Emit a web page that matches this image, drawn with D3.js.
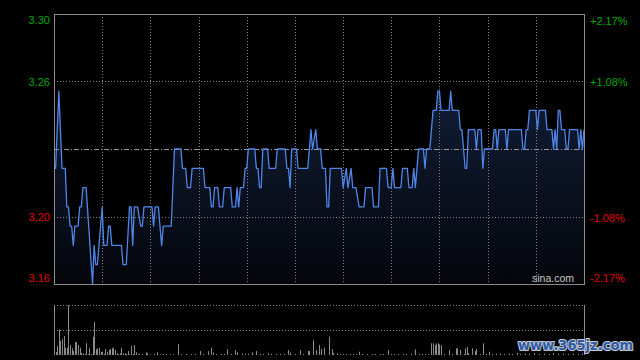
<!DOCTYPE html>
<html><head><meta charset="utf-8">
<script src="https://cdn.jsdelivr.net/npm/d3@7"></script>
<style>html,body{margin:0;padding:0;background:#000;}svg{display:block;}</style>
</head><body>
<svg id="c" width="640" height="360"></svg>
<script>
// minutes since 09:30 (HK session, 330 trading minutes) at the line's vertices
const times = [0,1,3,5,7,8,9,10,11,12,13,15,16,17,18,20,24,25,26,27,30,31,33,34,35,36,42,43,45,47,48,49,50,52,54,55,56,61,62,63,65,67,68,73,75,79,80,82,83,85,86,93,94,97,98,99,100,102,103,105,106,110,111,113,114,115,116,118,119,120,121,125,126,127,128,129,130,133,134,138,139,144,145,146,147,148,151,152,158,160,161,163,164,166,167,169,170,171,172,179,180,182,183,185,186,188,190,193,194,198,199,202,203,207,208,210,211,212,216,217,220,221,223,224,225,227,230,231,232,234,236,238,239,240,241,246,247,248,252,253,254,256,257,258,262,263,264,266,267,268,273,274,275,276,277,281,282,283,291,292,293,294,295,296,300,301,302,306,307,310,311,312,313,314,315,316,318,319,320,321,326,327,328,329,330];
const prices = [3.22,3.22,3.26,3.22,3.22,3.20,3.20,3.19,3.19,3.18,3.19,3.19,3.20,3.20,3.21,3.21,3.16,3.18,3.17,3.17,3.20,3.18,3.18,3.19,3.19,3.18,3.18,3.17,3.17,3.20,3.20,3.18,3.20,3.20,3.19,3.19,3.20,3.20,3.19,3.20,3.20,3.18,3.19,3.19,3.23,3.23,3.22,3.22,3.21,3.21,3.22,3.22,3.21,3.21,3.20,3.20,3.21,3.21,3.20,3.20,3.21,3.21,3.20,3.20,3.21,3.20,3.21,3.21,3.22,3.22,3.23,3.23,3.22,3.22,3.21,3.21,3.23,3.23,3.22,3.22,3.23,3.23,3.22,3.22,3.21,3.23,3.23,3.22,3.22,3.24,3.23,3.24,3.23,3.23,3.22,3.22,3.20,3.20,3.22,3.22,3.21,3.22,3.21,3.22,3.21,3.21,3.20,3.20,3.21,3.21,3.20,3.20,3.22,3.22,3.21,3.21,3.22,3.21,3.21,3.22,3.22,3.21,3.21,3.22,3.21,3.23,3.23,3.22,3.23,3.23,3.25,3.25,3.26,3.26,3.25,3.25,3.26,3.25,3.25,3.24,3.24,3.22,3.22,3.24,3.24,3.23,3.24,3.24,3.22,3.23,3.23,3.24,3.24,3.23,3.24,3.24,3.23,3.24,3.24,3.23,3.23,3.24,3.24,3.25,3.25,3.24,3.25,3.25,3.24,3.24,3.23,3.24,3.23,3.25,3.25,3.24,3.24,3.23,3.23,3.24,3.24,3.23,3.24,3.23,3.24];

// volume bars (minute, volume in thousand shares)
const volTimes = [0,1,2,3,4,5,6,7,8,9,10,11,12,13,14,15,16,17,18,19,20,21,22,23,24,25,26,27,28,29,30,31,32,33,34,35,36,37,38,39,40,41,42,43,44,45,46,47,48,49,50,51,52,53,55,57,58,60,62,64,66,68,70,72,74,77,79,82,85,88,91,93,96,98,99,101,104,106,108,110,113,114,117,119,121,123,126,128,130,133,135,138,141,143,146,147,150,153,155,158,159,161,163,165,166,168,171,173,174,176,178,180,182,184,186,188,190,192,195,198,200,203,205,208,210,212,214,217,219,222,225,227,229,231,233,235,236,237,238,239,240,241,243,246,248,250,251,253,255,256,257,258,260,262,263,265,267,269,271,273,275,278,280,283,285,288,290,293,296,299,302,305,308,311,314,317,320,323,326,329];
const volValues = [117,30,90,257,143,157,190,73,73,503,100,67,40,130,130,100,73,23,17,10,120,10,73,10,183,333,57,67,73,33,33,10,60,33,53,57,67,73,50,17,10,17,73,17,17,10,40,7,93,10,100,27,10,7,10,27,17,7,10,27,7,10,10,7,10,110,10,13,10,10,40,10,40,73,27,10,10,10,60,10,50,27,17,10,10,27,40,10,10,17,10,10,10,10,50,27,10,50,10,40,40,150,50,100,60,73,183,60,20,17,10,10,10,10,10,10,33,10,10,10,10,10,10,50,10,10,10,10,10,10,57,10,10,10,10,117,117,100,117,117,107,100,10,50,10,67,67,50,10,67,83,20,67,40,60,10,117,10,33,10,10,15,10,15,10,20,10,15,10,20,10,15,10,20,10,15,10,15,10,15];

const prevClose = 3.23;
const priceTicks = [3.30, 3.265, 3.195, 3.16];
const priceTickLabels = ["3.30", "3.26", "3.20", "3.16"];
const pctTickLabels = ["+2.17%", "+1.08%", "-1.08%", "-2.17%"];
const timeGrid = [30,60,90,120,150,180,210,240,270,300];

const svg = d3.select("#c");
const L = 54, R = 584, T = 14, B = 284, VT = 305, VB = 355;

const x = d3.scaleLinear().domain([0, 330]).range([L, R]);
const y = d3.scaleLinear().domain([3.16, 3.30]).range([B, T]);
const yv = d3.scaleLinear().domain([0, d3.max(volValues)]).range([VB, VT]);

const pts = times.map((t, i) => ({t, p: prices[i]}));

// gradient fill
const defs = svg.append("defs");
const g1 = defs.append("linearGradient").attr("id", "fillg")
  .attr("gradientUnits", "userSpaceOnUse").attr("x1", 0).attr("x2", 0).attr("y1", 90).attr("y2", B);
g1.append("stop").attr("offset", 0).attr("stop-color", "#111d36");
g1.append("stop").attr("offset", 1).attr("stop-color", "#04060b");

svg.append("path").datum(pts)
  .attr("d", d3.area().x(d => x(d.t)).y0(B).y1(d => y(d.p)))
  .attr("fill", "url(#fillg)");

// grid
const grid = svg.append("g").attr("stroke", "#858585").attr("stroke-dasharray", "1,2").attr("stroke-width", 1);
grid.selectAll("line.v").data(timeGrid).join("line")
  .attr("x1", d => Math.round(x(d)) + 0.5).attr("x2", d => Math.round(x(d)) + 0.5)
  .attr("y1", T).attr("y2", B);
grid.selectAll("line.h").data([priceTicks[1], priceTicks[2]]).join("line")
  .attr("x1", L).attr("x2", R)
  .attr("y1", d => Math.round(y(d)) + 0.5).attr("y2", d => Math.round(y(d)) + 0.5);

// prev close line
svg.append("line").attr("x1", L).attr("x2", R)
  .attr("y1", Math.round(y(prevClose)) + 0.5).attr("y2", Math.round(y(prevClose)) + 0.5)
  .attr("stroke", "#9a9a9a").attr("stroke-dasharray", "5,2,1,2");

// price line
svg.append("path").datum(pts)
  .attr("d", d3.line().x(d => x(d.t)).y(d => y(d.p)))
  .attr("fill", "none").attr("stroke", "#4f86ea").attr("stroke-width", 1.3)
  .attr("stroke-linejoin", "round");

// border
svg.append("rect").attr("x", L + 0.5).attr("y", T + 0.5).attr("width", R - L).attr("height", B - T)
  .attr("fill", "none").attr("stroke", "#8c8c8c");

// axes
const colorFor = i => i < 2 ? "#00a800" : "#e60000";
const offsL = [6, 0, 0, -6];
const offsR = [7, 0.5, 1, -6];
const axL = svg.append("g").attr("transform", `translate(${L},0)`)
  .call(d3.axisLeft(y).tickValues(priceTicks).tickSize(0).tickPadding(4)
    .tickFormat((d, i) => priceTickLabels[i]));
axL.select(".domain").remove();
axL.selectAll("text").attr("font-family", "Liberation Sans, Arial, sans-serif").attr("font-size", 11)
  .attr("fill", (d, i) => colorFor(i)).attr("dy", (d, i) => (offsL[i] + 3.9) + "px");

const axR = svg.append("g").attr("transform", `translate(${R},0)`)
  .call(d3.axisRight(y).tickValues(priceTicks).tickSize(0).tickPadding(6)
    .tickFormat((d, i) => pctTickLabels[i]));
axR.select(".domain").remove();
axR.selectAll("text").attr("font-family", "Liberation Sans, Arial, sans-serif").attr("font-size", 11)
  .attr("fill", (d, i) => colorFor(i)).attr("dy", (d, i) => (offsR[i] + 3.9) + "px");

// sina.com
svg.append("text").attr("x", 532).attr("y", 282).text("sina.com")
  .attr("font-family", "Liberation Sans, Arial, sans-serif").attr("font-size", 10.5).attr("fill", "#c8c8c8");

// volume panel
const vg = svg.append("g");
vg.selectAll("line.g").data([VT, (VT + VB) / 2]).join("line")
  .attr("x1", L).attr("x2", R).attr("y1", d => Math.round(d) + 0.5).attr("y2", d => Math.round(d) + 0.5)
  .attr("stroke", "#858585").attr("stroke-dasharray", "1,2");
vg.append("line").attr("x1", L + 0.5).attr("x2", L + 0.5).attr("y1", VT).attr("y2", VB).attr("stroke", "#8c8c8c");
vg.append("line").attr("x1", R + 0.5).attr("x2", R + 0.5).attr("y1", VT).attr("y2", VB).attr("stroke", "#8c8c8c");
vg.selectAll("rect.v").data(volTimes.map((t, i) => ({t, v: volValues[i]}))).join("rect")
  .attr("x", d => Math.round(x(d.t))).attr("width", 1)
  .attr("y", d => yv(d.v)).attr("height", d => VB - yv(d.v))
  .attr("fill", "#8a8a8a");

// watermark
svg.append("text").attr("x", 518).attr("y", 350).text("www.365jz.com")
  .attr("font-family", "DejaVu Sans, sans-serif").attr("font-weight", "bold").attr("font-size", 14)
  .attr("textLength", 115).attr("lengthAdjust", "spacingAndGlyphs")
  .attr("fill", "#2d5aa6").attr("stroke", "#c8ccd4").attr("stroke-width", 2.2)
  .attr("paint-order", "stroke").attr("stroke-linejoin", "round");
</script>
</body></html>
